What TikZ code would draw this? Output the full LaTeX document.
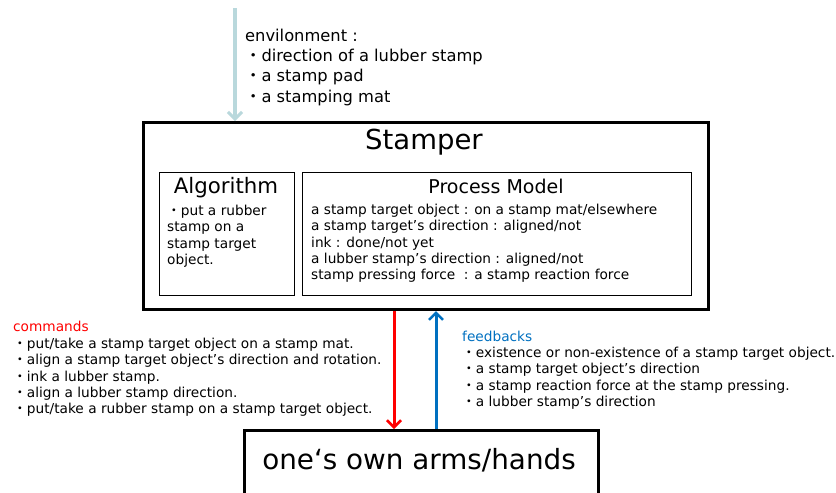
\documentclass[tikz,border=0pt]{standalone}
\usepackage{fontspec}
\setmainfont{DejaVu Sans}
\newfontfamily\cjk{Noto Sans CJK JP}
\usetikzlibrary{arrows.meta}
\definecolor{envblue}{RGB}{185,216,220}
\definecolor{cmdred}{RGB}{255,0,0}
\definecolor{fbblue}{RGB}{0,112,192}
\newcommand{\bl}{{\cjk ・}}
\tikzset{
  box/.style={draw=black, line width=1pt},
  bigbox/.style={draw=black, line width=3pt},
  txt/.style={inner sep=0pt, align=left, anchor=north west},
  small/.style={font=\fontsize{13.7}{16.3}\selectfont},
  flow/.style={line width=3pt, -{Straight Barb[length=7pt,width=14pt,line width=2.5pt]}},
}
\begin{document}
\begin{tikzpicture}[x=1pt,y=-1pt]
\useasboundingbox (0,0) rectangle (836,493);
% boxes
\node[bigbox, minimum width=565pt, minimum height=187pt, inner sep=0pt, anchor=north west] (stamper) at (142,121) {};
\node[font=\fontsize{27.5}{32}\selectfont] (stitle) at (424,142) {Stamper};
\node[box, minimum width=135pt, minimum height=123pt, inner sep=0pt, anchor=north west] (algo) at (159,172) {};
\node[font=\fontsize{21.3}{25}\selectfont] (atitle) at (226,188) {Algorithm};
\node[txt, small] (atext) at (167,205) {\bl put a rubber\\stamp on a\\stamp target\\object.};
\node[box, minimum width=389pt, minimum height=123pt, inner sep=0pt, anchor=north west] (pm) at (302,172) {};
\node[font=\fontsize{19}{23}\selectfont] (ptitle) at (496,186) {Process Model};
\node[txt, small] (ptext) at (311,204) {a stamp target object : on a stamp mat/elsewhere\\a stamp target’s direction : aligned/not\\ink : done/not yet\\a lubber stamp’s direction : aligned/not\\stamp pressing force\ \ : a stamp reaction force};
\node[bigbox, minimum width=354pt, minimum height=90pt, inner sep=0pt, anchor=north west] (arms) at (243,429) {};
\node[font=\fontsize{27.8}{32}\selectfont] (armtitle) at (419,460) {one‘s own arms/hands};
% environment
\node[txt, font=\fontsize{16.3}{20.2}\selectfont] (env) at (245,29) {envilonment :\\\bl direction of a lubber stamp\\\bl a stamp pad\\\bl a stamping mat};
\coordinate (envstart) at (235,8);
\draw[line width=4pt, envblue, -{Straight Barb[length=7pt,width=14pt,line width=3pt]}] (envstart) -- (envstart |- stamper.north);
% commands
\node[txt, small, text=cmdred] (cmd) at (13,321) {commands};
\node[txt, small] (cmdtext) at (13,338) {\bl put/take a stamp target object on a stamp mat.\\\bl align a stamp target object’s direction and rotation.\\\bl ink a lubber stamp.\\\bl align a lubber stamp direction.\\\bl put/take a rubber stamp on a stamp target object.};
% feedbacks
\node[txt, small, text=fbblue] (fb) at (462,331) {feedbacks};
\node[txt, small] (fbtext) at (462,347) {\bl existence or non-existence of a stamp target object.\\\bl a stamp target object’s direction\\\bl a stamp reaction force at the stamp pressing.\\\bl a lubber stamp’s direction};
% arrows
\coordinate (redx) at (394,0);
\coordinate (bluex) at (436,0);
\draw[flow, cmdred] (redx |- stamper.south) -- (redx |- arms.north);
\draw[flow, fbblue] (bluex |- arms.north) -- (bluex |- stamper.south);
\end{tikzpicture}
\end{document}
